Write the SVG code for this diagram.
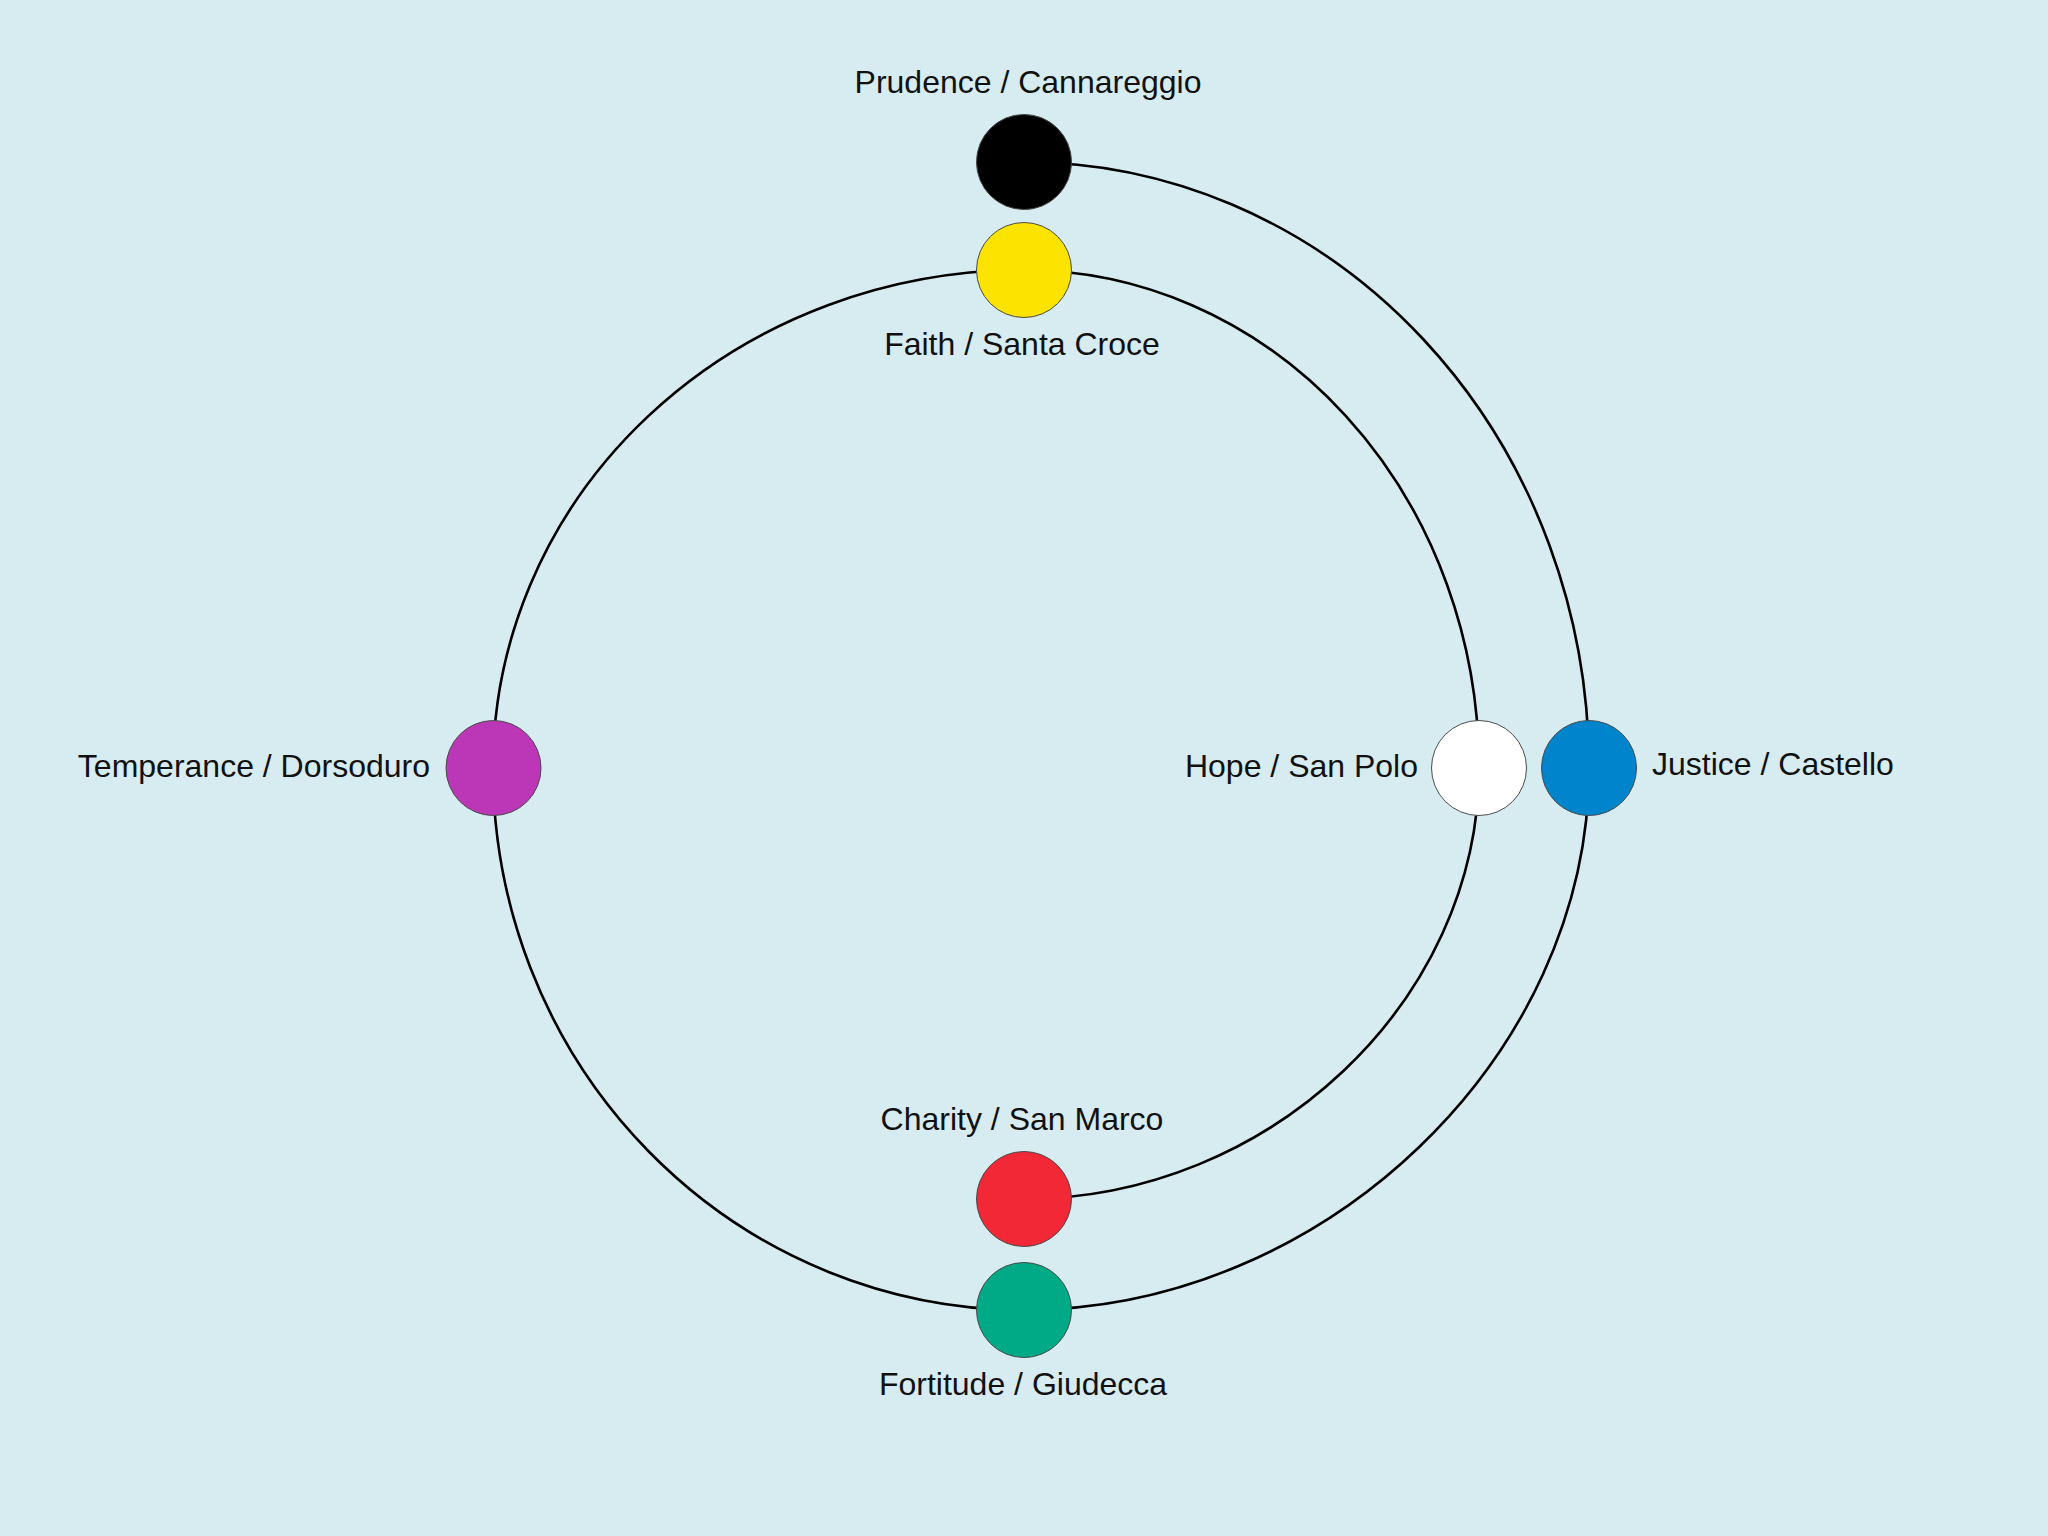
<svg xmlns="http://www.w3.org/2000/svg" width="2048" height="1536" viewBox="0 0 2048 1536">
  <style>
    .edge { fill: none; stroke: #000000; stroke-width: 2.6; }
    .node { stroke: #4a4a4a; stroke-width: 1; }
    .label { font-family: "Liberation Sans", Arial, Helvetica, sans-serif; font-size: 32px; fill: #111111; }
  </style>
  <rect x="0" y="0" width="2048" height="1536" fill="#D7ECF1"/>
  <g id="connectors">
    <path class="edge" d="M1024,162 A565,606 0 0 1 1589,768"/>
    <path class="edge" d="M1589,768 C1589,1056 1324.6,1310 1024,1310"/>
    <path class="edge" d="M1024,270 A455,498 0 0 1 1479,768"/>
    <path class="edge" d="M1479,768 C1479,1000.7 1269.7,1199 1024,1199"/>
    <path class="edge" d="M1024,270 A531,498 0 0 0 493,768"/>
    <path class="edge" d="M493,768 A531,542 0 0 0 1024,1310"/>
  </g>
  <g id="prudence">
    <circle class="node" cx="1024" cy="162" r="47.5" fill="#000000"/>
    <text class="label" x="1028" y="93" text-anchor="middle">Prudence / Cannareggio</text>
  </g>
  <g id="faith">
    <circle class="node" cx="1024" cy="270" r="47.5" fill="#FCE300"/>
    <text class="label" x="1022" y="355" text-anchor="middle">Faith / Santa Croce</text>
  </g>
  <g id="temperance">
    <circle class="node" cx="493.5" cy="768" r="47.5" fill="#BC36B8"/>
    <text class="label" x="430" y="777" text-anchor="end">Temperance / Dorsoduro</text>
  </g>
  <g id="hope">
    <circle class="node" cx="1479" cy="768" r="47.5" fill="#FFFFFF" stroke="#707070"/>
    <text class="label" x="1418" y="777" text-anchor="end">Hope / San Polo</text>
  </g>
  <g id="justice">
    <circle class="node" cx="1589" cy="768" r="47.5" fill="#0085CD"/>
    <text class="label" x="1652" y="775" text-anchor="start">Justice / Castello</text>
  </g>
  <g id="charity">
    <circle class="node" cx="1024" cy="1199" r="47.5" fill="#F22837"/>
    <text class="label" x="1022" y="1130" text-anchor="middle">Charity / San Marco</text>
  </g>
  <g id="fortitude">
    <circle class="node" cx="1024" cy="1310" r="47.5" fill="#00AA86"/>
    <text class="label" x="1023" y="1395" text-anchor="middle">Fortitude / Giudecca</text>
  </g>
</svg>
